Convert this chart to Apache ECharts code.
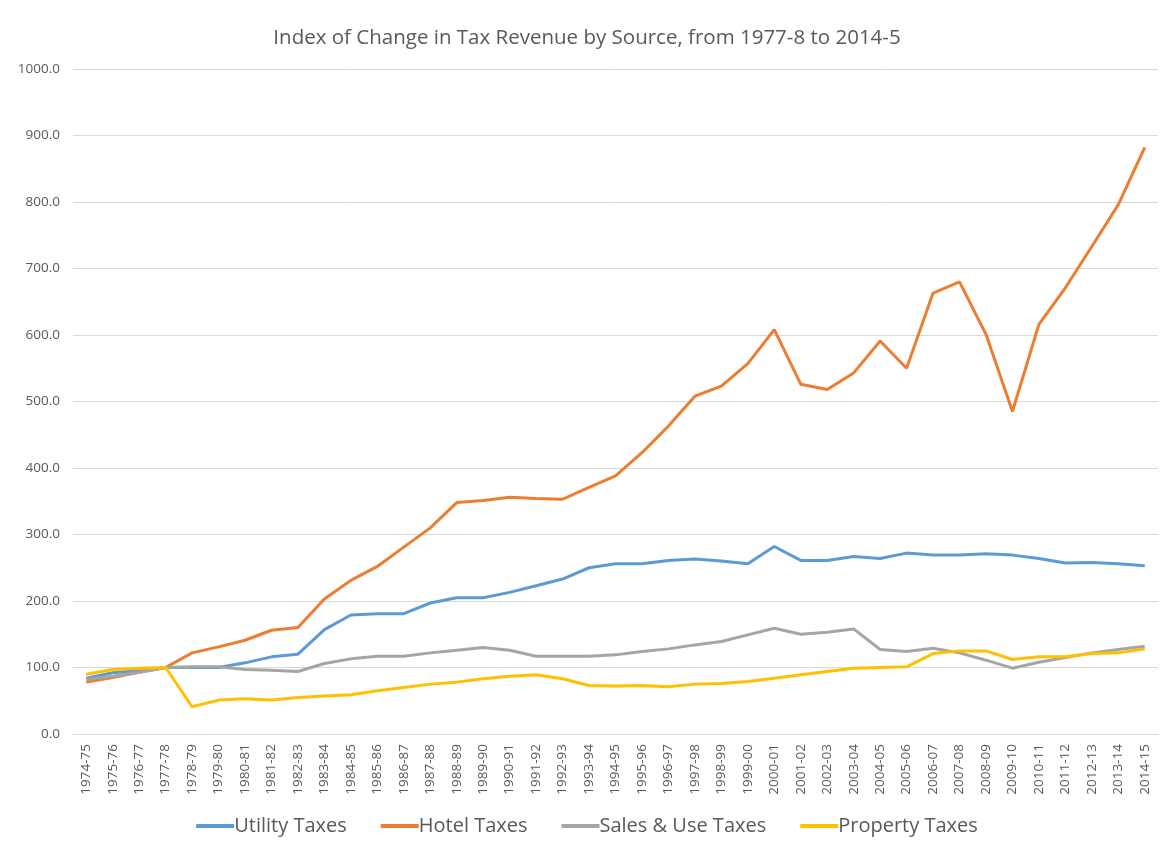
<!DOCTYPE html>
<html>
<head>
<meta charset="utf-8">
<title>Index of Change in Tax Revenue by Source</title>
<script src="https://cdn.jsdelivr.net/npm/echarts@6/dist/echarts.min.js"></script>
<style>
  html, body { margin: 0; padding: 0; background: #fff; }
  #chart { width: 1174px; height: 846px; }
</style>
</head>
<body>
<div id="chart"></div>
<script>
// fiscal years on the x axis
var years = ['1974-75', '1975-76', '1976-77', '1977-78', '1978-79', '1979-80', '1980-81', '1981-82',
  '1982-83', '1983-84', '1984-85', '1985-86', '1986-87', '1987-88', '1988-89', '1989-90', '1990-91',
  '1991-92', '1992-93', '1993-94', '1994-95', '1995-96', '1996-97', '1997-98', '1998-99', '1999-00',
  '2000-01', '2001-02', '2002-03', '2003-04', '2004-05', '2005-06', '2006-07', '2007-08', '2008-09',
  '2009-10', '2010-11', '2011-12', '2012-13', '2013-14', '2014-15'];

// index values (1977-78 = 100)
var utilityTaxes = [84, 92, 95, 100, 100, 100, 107, 116, 120, 157, 179, 181, 181, 197, 205, 205, 213,
  223, 233, 250, 256, 256, 261, 263, 260, 256, 282, 261, 261, 267, 264, 272, 269, 269, 271,
  269, 264, 257, 258, 256, 253];
var hotelTaxes = [78, 85, 93, 100, 122, 131, 141, 156, 160, 203, 231, 252, 281, 310, 348, 351, 356,
  354, 353, 371, 388, 423, 463, 508, 523, 557, 608, 526, 518, 543, 591, 550, 663, 680, 601,
  485, 616, 671, 733, 796, 882];
var salesUseTaxes = [82, 87, 93, 100, 101, 101, 97, 96, 94, 106, 113, 117, 117, 122, 126, 130, 126,
  117, 117, 117, 119, 124, 128, 134, 139, 149, 159, 150, 153, 158, 127, 124, 129, 122, 111,
  99, 108, 115, 122, 127, 132];
var propertyTaxes = [90, 97, 99, 100, 41, 51, 53, 51, 55, 57, 59, 65, 70, 75, 78, 83, 87,
  89, 83, 73, 72, 73, 71, 75, 76, 79, 84, 89, 94, 99, 100, 101, 121, 125, 125,
  112, 116, 116, 121, 122, 128];

var seriesNames = ['Utility Taxes', 'Hotel Taxes', 'Sales & Use Taxes', 'Property Taxes'];
var seriesColors = ['#5b9bd5', '#ed7d31', '#a5a5a5', '#ffc000'];
var seriesData = [utilityTaxes, hotelTaxes, salesUseTaxes, propertyTaxes];

var font = '"Open Sans", "DejaVu Sans", sans-serif';

var myChart = echarts.init(document.getElementById('chart'));

var option = {
  backgroundColor: '#fff',
  animation: false,
  color: seriesColors,
  title: {
    text: 'Index of Change in Tax Revenue by Source, from 1977-8 to 2014-5',
    left: 'center',
    top: 23,
    textStyle: {
      fontFamily: font,
      fontSize: 20.5,
      fontWeight: 'normal',
      color: '#595959'
    }
  },
  legend: {
    data: seriesNames,
    bottom: 5,
    left: 'center',
    icon: 'rect',
    itemWidth: 38,
    itemHeight: 4,
    itemGap: 34,
    textStyle: {
      fontFamily: font,
      fontSize: 20,
      color: '#595959',
      padding: [0, 0, 0, -5]
    }
  },
  grid: {
    left: 73,
    right: 16,
    top: 69,
    bottom: 112
  },
  xAxis: {
    type: 'category',
    boundaryGap: true,
    data: years,
    axisLine: { show: true, lineStyle: { color: '#d9d9d9', width: 1 } },
    axisTick: { show: false },
    axisLabel: {
      rotate: 90,
      interval: 0,
      margin: 10,
      fontFamily: font,
      fontSize: 13.5,
      color: '#595959'
    }
  },
  yAxis: {
    type: 'value',
    min: 0,
    max: 1000,
    interval: 100,
    axisLine: { show: false },
    axisTick: { show: false },
    splitLine: { lineStyle: { color: '#d9d9d9', width: 1 } },
    axisLabel: {
      margin: 13,
      fontFamily: font,
      fontSize: 13.5,
      color: '#595959',
      formatter: function (v) { return v.toFixed(1); }
    }
  },
  series: seriesNames.map(function (name, i) {
    return {
      name: name,
      type: 'line',
      symbol: 'none', // no dots, like the original
      data: seriesData[i],
      lineStyle: { width: 3, color: seriesColors[i] },
      itemStyle: { color: seriesColors[i] }
    };
  })
};

myChart.setOption(option);
</script>
</body>
</html>
